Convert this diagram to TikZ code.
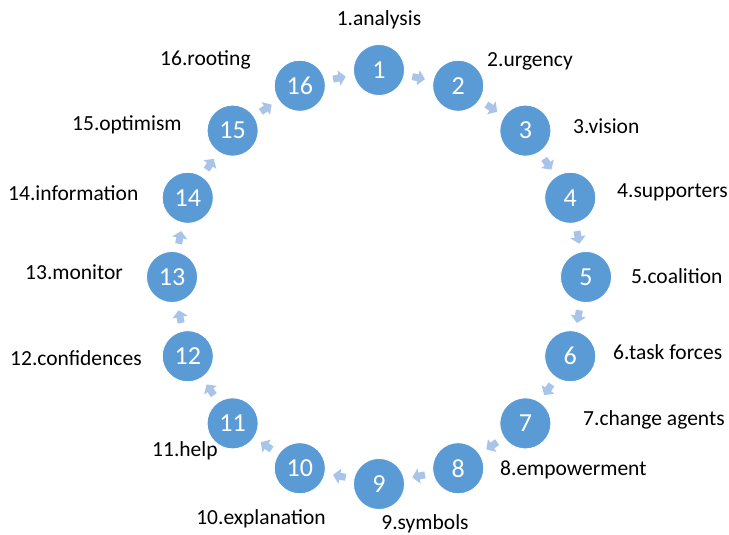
\documentclass[tikz,border=0pt]{standalone}
\usepackage{fontspec}
\setmainfont{Carlito}
\usetikzlibrary{arrows.meta}
\definecolor{ringblue}{RGB}{91,155,213}
\definecolor{flowblue}{RGB}{168,196,232}

\begin{document}
\begin{tikzpicture}[x=1pt,y=1pt,
  stage/.style={circle,fill=ringblue,draw=white,line width=0.8pt,minimum size=51pt,inner sep=0pt,text=white,font=\fontsize{26}{30}\selectfont},
  flow/.style={draw=flowblue,line width=7pt,shorten <=8pt,shorten >=8pt,-{Triangle[width=15pt,length=7pt]}},
  lbl/.style={font=\fontsize{21.5}{25}\selectfont,inner sep=0pt}]
  \useasboundingbox (0,0) rectangle (729,535);

  % Ring of stages
  \foreach \i in {1,...,16} {
    \pgfmathsetmacro{\ang}{90-(\i-1)*22.5}
    \node[stage] (n\i) at ({379+207*cos(\ang)},{258+207*sin(\ang)}) {\i};
  }

  % Arrows between neighbours
  \foreach \i in {1,...,16} {
    \pgfmathtruncatemacro{\j}{mod(\i,16)+1}
    \draw[flow] (n\i) -- (n\j);
  }

  % Stage names
  \node[lbl] (l1) at (379,515) {1.analysis};
  \node[lbl,anchor=west] (l2) at (487,474) {2.urgency};
  \node[lbl,anchor=west] (l3) at (573,409) {3.vision};
  \node[lbl,anchor=west] (l4) at (617,343) {4.supporters};
  \node[lbl,anchor=west] (l5) at (631,259) {5.coalition};
  \node[lbl,anchor=west] (l6) at (613,183) {6.task forces};
  \node[lbl,anchor=west] (l7) at (583,115) {7.change agents};
  \node[lbl,anchor=west] (l8) at (500,65) {8.empowerment};
  \node[lbl] (l9) at (425,11) {9.symbols};
  \node[lbl] (l10) at (261,16) {10.explanation};
  \node[lbl,anchor=west] (l11) at (152,84) {11.help};
  \node[lbl,anchor=west] (l12) at (10,177) {12.confidences};
  \node[lbl,anchor=west] (l13) at (25,263) {13.monitor};
  \node[lbl,anchor=west] (l14) at (8,342) {14.information};
  \node[lbl,anchor=west] (l15) at (72,410) {15.optimism};
  \node[lbl,anchor=west] (l16) at (160,475) {16.rooting};
\end{tikzpicture}
\end{document}
